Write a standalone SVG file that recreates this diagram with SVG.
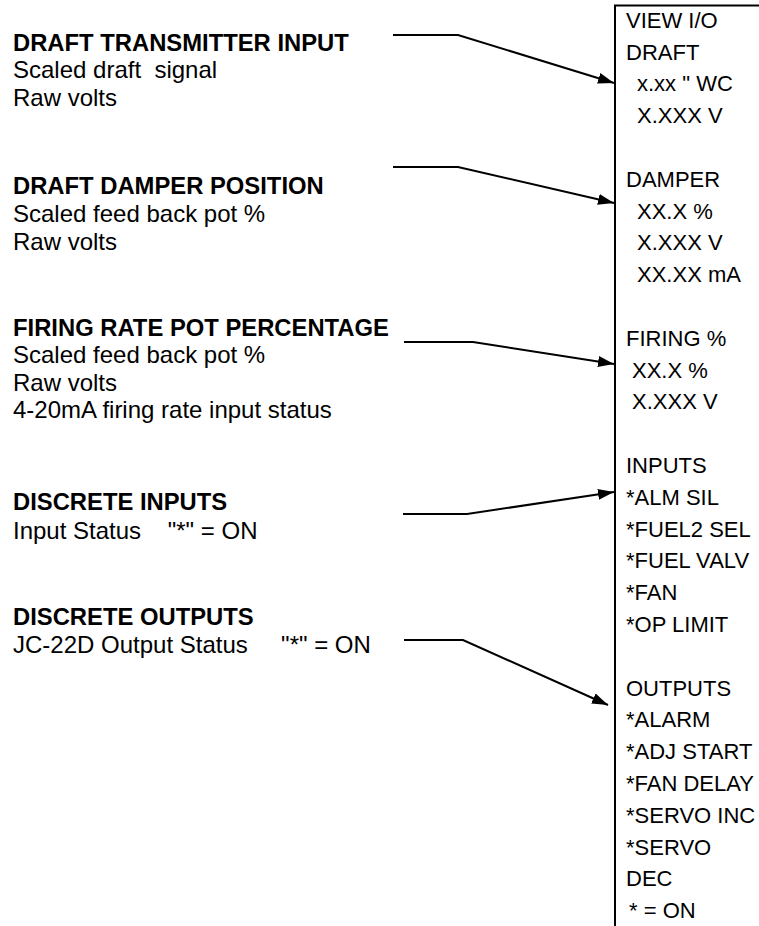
<svg xmlns="http://www.w3.org/2000/svg" width="759" height="926" viewBox="0 0 759 926">
<style>
.h{font-family:"Liberation Sans",Arial,sans-serif;font-size:23.8px;font-weight:bold;fill:#000}
.t{font-family:"Liberation Sans",Arial,sans-serif;font-size:24px;fill:#000;white-space:pre}
.r{font-family:"Liberation Sans",Arial,sans-serif;font-size:22px;fill:#000;white-space:pre}
.ln{fill:none;stroke:#000;stroke-width:2}
.c{fill:none;stroke:#000;stroke-width:2;marker-end:url(#ah)}
</style>
<defs>
<marker id="ah" markerUnits="userSpaceOnUse" markerWidth="18" markerHeight="12" refX="16" refY="5.5" orient="auto">
<path d="M0,0 L16,5.5 L0,11 z" fill="#000"/>
</marker>
</defs>
<rect width="759" height="926" fill="#fff"/>
<g id="display">
<path class="ln" d="M615,926 V5.5 H759"/>
<text class="r" x="626" y="28">VIEW I/O</text>
<text class="r" x="626" y="60">DRAFT</text>
<text class="r" x="637" y="91">x.xx " WC</text>
<text class="r" x="637" y="123">X.XXX V</text>
<text class="r" x="626" y="187">DAMPER</text>
<text class="r" x="637" y="219">XX.X %</text>
<text class="r" x="637" y="250">X.XXX V</text>
<text class="r" x="637" y="282">XX.XX mA</text>
<text class="r" x="626" y="346">FIRING %</text>
<text class="r" x="632" y="378">XX.X %</text>
<text class="r" x="632" y="409">X.XXX V</text>
<text class="r" x="626" y="473">INPUTS</text>
<text class="r" x="626" y="505">*ALM SIL</text>
<text class="r" x="626" y="537">*FUEL2 SEL</text>
<text class="r" x="626" y="568">*FUEL VALV</text>
<text class="r" x="626" y="600">*FAN</text>
<text class="r" x="626" y="632">*OP LIMIT</text>
<text class="r" x="626" y="696">OUTPUTS</text>
<text class="r" x="626" y="727">*ALARM</text>
<text class="r" x="626" y="759">*ADJ START</text>
<text class="r" x="626" y="791">*FAN DELAY</text>
<text class="r" x="626" y="823">*SERVO INC</text>
<text class="r" x="626" y="855">*SERVO</text>
<text class="r" x="626" y="886">DEC</text>
<text class="r" x="629" y="918">* = ON</text>
</g>
<g id="draft-transmitter">
<text class="h" x="13" y="51">DRAFT TRANSMITTER INPUT</text>
<text class="t" x="13" y="78">Scaled draft  signal</text>
<text class="t" x="13" y="106">Raw volts</text>
</g>
<g id="draft-damper">
<text class="h" x="13" y="194">DRAFT DAMPER POSITION</text>
<text class="t" x="13" y="222">Scaled feed back pot %</text>
<text class="t" x="13" y="250">Raw volts</text>
</g>
<g id="firing-rate">
<text class="h" x="13" y="336">FIRING RATE POT PERCENTAGE</text>
<text class="t" x="13" y="363">Scaled feed back pot %</text>
<text class="t" x="13" y="391">Raw volts</text>
<text class="t" x="13" y="418">4-20mA firing rate input status</text>
</g>
<g id="discrete-inputs">
<text class="h" x="13" y="510">DISCRETE INPUTS</text>
<text class="t" x="13" y="539">Input Status    "*" = ON</text>
</g>
<g id="discrete-outputs">
<text class="h" x="13" y="625">DISCRETE OUTPUTS</text>
<text class="t" x="13" y="653">JC-22D Output Status     "*" = ON</text>
</g>
<g id="connectors">
<path class="c" d="M393,35 H458 L614,83"/>
<path class="c" d="M393,167 H458 L614,203"/>
<path class="c" d="M404,342 H473 L614,364"/>
<path class="c" d="M403,514 H467 L614,492"/>
<path class="c" d="M404,640 H463 L608,705"/>
</g>
</svg>
